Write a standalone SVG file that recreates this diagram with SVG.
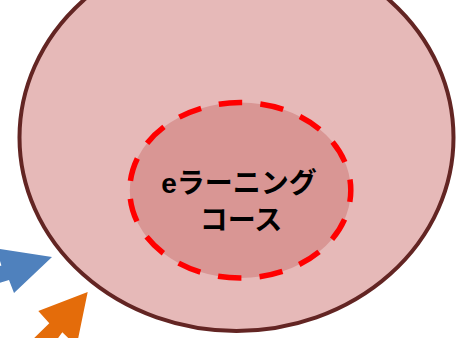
<svg xmlns="http://www.w3.org/2000/svg" width="459" height="338" viewBox="0 0 459 338">
  <style>
    .outer { fill: #E6B9B8; stroke: #632523; stroke-width: 4; }
    .inner { fill: #D99694; stroke: #FF0000; stroke-width: 5.5; stroke-dasharray: 23.5 18.15; stroke-dashoffset: 11.75; }
    .label { font-family: "Liberation Sans", "Noto Sans CJK JP", sans-serif; font-size: 28px; font-weight: bold; fill: #000000; text-anchor: middle; }
  </style>
  <rect x="0" y="0" width="459" height="338" fill="#FFFFFF"/>
  <g id="outer-circle">
    <ellipse class="outer" cx="236.5" cy="137.5" rx="217" ry="193.5"/>
  </g>
  <g id="elearning-course">
    <ellipse class="inner" cx="240.3" cy="190.3" rx="110.5" ry="87.7"/>
    <text class="label" x="239" y="193">eラーニング</text>
    <text class="label" x="241" y="230">コース</text>
  </g>
  <g id="connectors">
    <polygon fill="#4F81BD" points="52,257 14,293 9,280 -10,286 -10,269 1.4,265.5 -3.9,248.4"/>
    <polygon fill="#E46C0A" points="87.7,292 76.6,346 62.3,332.3 53,345 27,345 49.3,323.3 38.3,311"/>
  </g>
</svg>
